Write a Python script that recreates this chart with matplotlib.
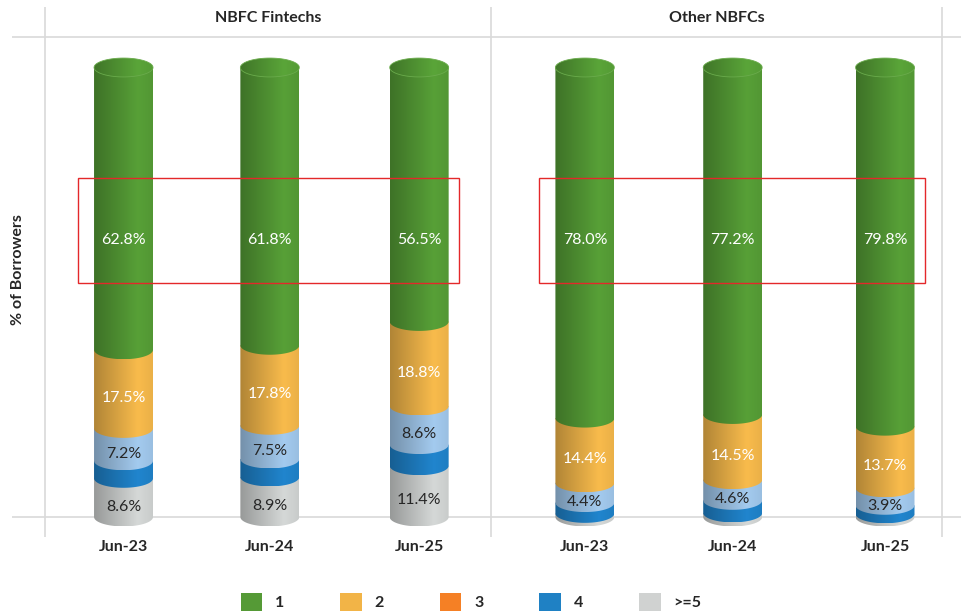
import matplotlib.pyplot as plt
import matplotlib.colors as mcolors
import numpy as np
from matplotlib.patches import PathPatch, Patch, Rectangle
from matplotlib.path import Path

plt.rcParams["font.family"] = ["Lato", "DejaVu Sans"]

panels = ["NBFC Fintechs", "Other NBFCs"]
periods = ["Jun-23", "Jun-24", "Jun-25"]
series = ["1", "2", "3", "4", ">=5"]

# % of borrowers by number of lenders
fintech_1 = [62.8, 61.8, 56.5]
fintech_2 = [17.5, 17.8, 18.8]
fintech_3 = [7.2, 7.5, 8.6]
fintech_4 = [3.9, 4.0, 4.7]
fintech_5 = [8.6, 8.9, 11.4]

other_1 = [78.0, 77.2, 79.8]
other_2 = [14.4, 14.5, 13.7]
other_3 = [4.4, 4.6, 3.9]
other_4 = [2.4, 2.8, 1.9]
other_5 = [0.8, 0.9, 0.7]

# colours used on the cylinders and in the legend (they differ for "3" in the source)
bar_colors = ["#549a35", "#efb449", "#9dc3e6", "#1f80c6", "#cdd0cf"]
legend_colors = ["#559a36", "#f2b447", "#f58025", "#1f81c4", "#d0d2d1"]
label_colors = ["white", "white", "#262626", "#262626", "#262626"]

BAR_W = 0.395
ELL_B = 2.1  # half height of the cylinder ellipses, in % units
GRID = "#d9d9d9"


def gradient(color, n=64):
    """Horizontal shading: darker on the left, lighter to the right."""
    rgb = np.array(mcolors.to_rgb(color))
    t = np.linspace(0, 1, n)
    fac = np.where(t < 0.75, 0.74 + 0.30 * t / 0.75, 1.04 - 0.06 * (t - 0.75) / 0.25)
    img = np.clip(rgb[None, :] * fac[:, None], 0, 1)
    return img[None, :, :]


def segment_path(x, y0, y1, w, b):
    t = np.linspace(np.pi, 2 * np.pi, 40)
    arc = np.column_stack([x + w / 2 * np.cos(t), y0 + b * np.sin(t)])
    verts = np.vstack([[x - w / 2, y1], arc, [x + w / 2, y1], [x - w / 2, y1]])
    return Path(verts, closed=True)


def ellipse_path(x, y, w, b):
    t = np.linspace(0, 2 * np.pi, 80)
    return Path(np.column_stack([x + w / 2 * np.cos(t), y + b * np.sin(t)]), closed=True)


def shaded(ax, path, color, bounds, zorder):
    patch = PathPatch(path, transform=ax.transData, facecolor="none", edgecolor="none")
    ax.add_patch(patch)
    im = ax.imshow(gradient(color), extent=bounds, aspect="auto",
                   interpolation="bilinear", zorder=zorder)
    im.set_clip_path(patch)


fig = plt.figure(figsize=(9.61, 6.13), dpi=100)
ax = fig.add_axes([12 / 961, 1 - 537 / 613, 949 / 961, 530 / 613])
ax.axis("off")

xpos = [0, 0.98, 1.98, 3.09, 4.08, 5.1]
groups = [
    [fintech_1, fintech_2, fintech_3, fintech_4, fintech_5],
    [other_1, other_2, other_3, other_4, other_5],
]

# grid frame
seps = [-0.526, 2.461, 5.482]
for s in seps:
    ax.axvline(s, color=GRID, lw=1.2, zorder=0)
ax.axhline(0, color=GRID, lw=1.2, zorder=0)
ax.axhline(106.8, color=GRID, lw=1.2, zorder=0)

for g, vals in enumerate(groups):
    for i in range(3):
        x = xpos[g * 3 + i]
        stack = [v[i] for v in vals][::-1]  # bottom (>=5) first
        cols = bar_colors[::-1]
        lcols = label_colors[::-1]
        bottom = 0
        for k, (v, c) in enumerate(zip(stack, cols)):
            top = bottom + v
            path = segment_path(x, bottom, top, BAR_W, ELL_B)
            shaded(ax, path, c, (x - BAR_W / 2, x + BAR_W / 2, bottom - ELL_B, top + ELL_B), 2 + k)
            sidx = len(stack) - 1 - k
            show = sidx in (0, 1, 2) or (sidx == 4 and v > 2)
            if show:
                ly = 61.6 if sidx == 0 else (bottom + top) / 2 - 2.0
                ax.text(x, ly, f"{v:.1f}%", ha="center", va="center", fontsize=11.5,
                        color=lcols[k], zorder=20)
            bottom = top
        # top face of the cylinder
        top_col = mcolors.to_rgb(bar_colors[0])
        top_col = tuple(min(1, c * 1.03) for c in top_col)
        shaded(ax, ellipse_path(x, bottom, BAR_W, ELL_B), top_col,
               (x - BAR_W / 2, x + BAR_W / 2, bottom - ELL_B, bottom + ELL_B), 10)
        ax.add_patch(PathPatch(ellipse_path(x, bottom, BAR_W, ELL_B), facecolor="none",
                               edgecolor="#6aab4c", lw=0.6, zorder=11))
        ax.text(x, -6.7, periods[i], ha="center", va="center", fontsize=11.5,
                fontweight="bold", color="#262626", clip_on=False)

    # highlight box round the "1" labels
    x0 = xpos[g * 3] - 0.305
    x1 = xpos[g * 3 + 2] + 0.27
    ax.add_patch(Rectangle((x0, 52.1), x1 - x0, 23.3, fill=False, edgecolor="#e4282a",
                           lw=1.0, zorder=25))
    ax.text((seps[g] + seps[g + 1]) / 2, 111.0, panels[g], ha="center", va="center",
            fontsize=11.5, fontweight="bold", color="#262626")

ax.set_xlim(-0.747, 5.609)
ax.set_ylim(-4.45, 113.46)

fig.text(18 / 961, 1 - 270 / 613, "% of Borrowers", rotation=90, ha="center",
         va="center", fontsize=11.5, fontweight="bold", color="#262626")

handles = [Patch(facecolor=c, edgecolor="none") for c in legend_colors]
fig.legend(handles, series, loc="center", bbox_to_anchor=(471 / 961, 1 - 602 / 613),
           ncol=5, frameon=False, handlelength=1.35, handleheight=1.35,
           handletextpad=0.8, columnspacing=3.5,
           prop={"size": 11.5, "weight": "bold"}, labelcolor="#262626")

fig.savefig("out.png", dpi=100)
